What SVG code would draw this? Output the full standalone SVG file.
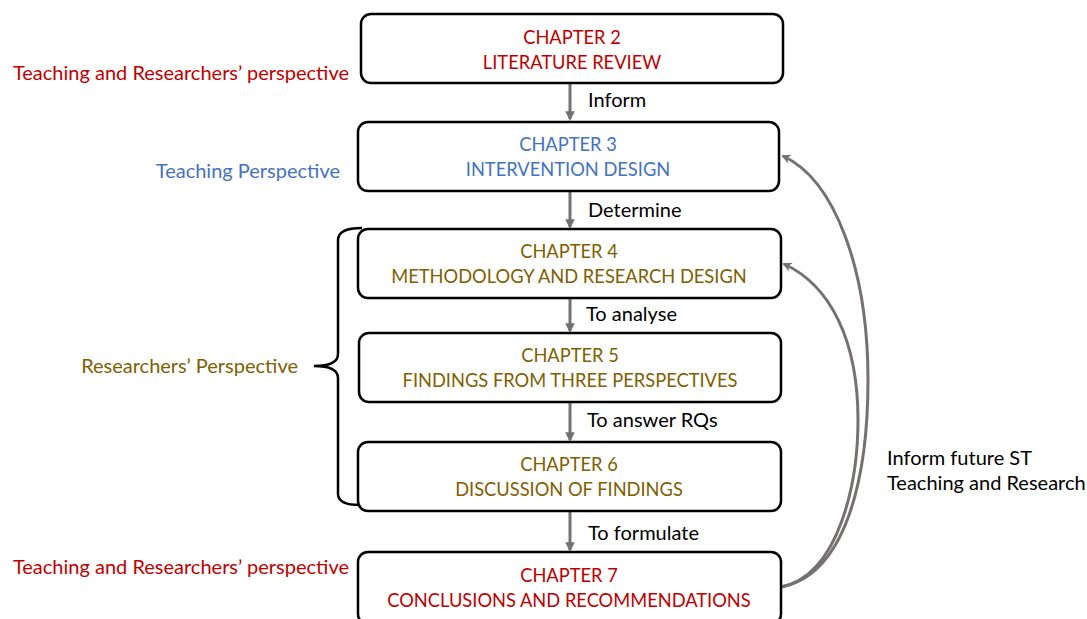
<svg xmlns="http://www.w3.org/2000/svg" width="1087" height="619" viewBox="0 0 1087 619">
  <defs>
    <style>
      text { font-family: Lato, "Liberation Sans", sans-serif; font-size: 20px; }
      .box { fill: #ffffff; stroke: #000000; stroke-width: 2.5; }
      .title { text-anchor: middle; font-size: 18.3px; }
      .red { fill: #C00000; }
      .blue { fill: #4472C4; }
      .olive { fill: #7F6000; }
      .lbl { fill: #000000; }
      .side { text-anchor: end; }
      .flow { stroke: #767171; stroke-width: 3; fill: none; marker-end: url(#head); }
      .loop { stroke: #767171; stroke-width: 3; fill: none; marker-end: url(#head2); }
    </style>
    <marker id="head" viewBox="0 0 10 10" refX="8" refY="5" markerWidth="3.2" markerHeight="3.2" orient="auto">
      <path d="M0,0 L10,5 L0,10 Z" fill="#767171"/>
    </marker>
    <marker id="head2" viewBox="0 0 10 10" refX="8" refY="5" markerWidth="3.2" markerHeight="3.2" orient="auto">
      <path d="M0,0 L10,5 L0,10 L3,5 Z" fill="#767171"/>
    </marker>
  </defs>

  <!-- side labels and the brace grouping chapters 4 to 6 -->
  <text class="side red" x="349" y="80">Teaching and Researchers’ perspective</text>
  <text class="side blue" x="340" y="178">Teaching Perspective</text>
  <text class="side olive" x="298" y="373">Researchers’ Perspective</text>
  <text class="side red" x="349" y="574">Teaching and Researchers’ perspective</text>
  <path d="M362,228 Q338,228 338,240 L338,354 Q338,366 314,366 Q338,366 338,378 L338,494 Q338,505 360,505" fill="none" stroke="#000" stroke-width="2.5"/>

  <!-- connectors -->
  <g id="connectors">
    <line class="flow" x1="570" y1="83" x2="570" y2="119"/>
    <line class="flow" x1="570" y1="191" x2="570" y2="227"/>
    <line class="flow" x1="570" y1="298" x2="570" y2="331"/>
    <line class="flow" x1="570" y1="402" x2="570" y2="440"/>
    <line class="flow" x1="570" y1="511" x2="570" y2="550"/>
    <path class="loop" d="M781,587 C845,575 868,480 868,380 C868,270 835,180 783,156"/>
    <path class="loop" d="M781,587 C840,575 858,480 858,420 C858,340 830,285 784,264"/>
    <text class="lbl" x="588" y="107">Inform</text>
    <text class="lbl" x="588" y="217">Determine</text>
    <text class="lbl" x="586" y="321">To analyse</text>
    <text class="lbl" x="587" y="427">To answer RQs</text>
    <text class="lbl" x="588" y="540">To formulate</text>
    <text class="lbl" x="887" y="465">Inform future ST</text>
    <text class="lbl" x="887" y="490">Teaching and Research</text>
  </g>

  <g id="ch2">
    <rect class="box" x="361" y="14" width="422" height="69" rx="10"/>
    <text class="title red" x="572" y="44">CHAPTER 2</text>
    <text class="title red" x="572" y="69">LITERATURE REVIEW</text>
  </g>
  <g id="ch3">
    <rect class="box" x="358" y="122" width="421" height="69" rx="10"/>
    <text class="title blue" x="568" y="151">CHAPTER 3</text>
    <text class="title blue" x="568" y="176">INTERVENTION DESIGN</text>
  </g>
  <g id="ch4">
    <rect class="box" x="358" y="229" width="423" height="69" rx="10"/>
    <text class="title olive" x="569" y="258">CHAPTER 4</text>
    <text class="title olive" x="569" y="283">METHODOLOGY AND RESEARCH DESIGN</text>
  </g>
  <g id="ch5">
    <rect class="box" x="359" y="333" width="422" height="69" rx="10"/>
    <text class="title olive" x="570" y="362">CHAPTER 5</text>
    <text class="title olive" x="570" y="387">FINDINGS FROM THREE PERSPECTIVES</text>
  </g>
  <g id="ch6">
    <rect class="box" x="358" y="442" width="423" height="69" rx="10"/>
    <text class="title olive" x="569" y="471">CHAPTER 6</text>
    <text class="title olive" x="569" y="496">DISCUSSION OF FINDINGS</text>
  </g>
  <g id="ch7">
    <rect class="box" x="358" y="552" width="423" height="72" rx="10"/>
    <text class="title red" x="569" y="582">CHAPTER 7</text>
    <text class="title red" x="569" y="607">CONCLUSIONS AND RECOMMENDATIONS</text>
  </g>
</svg>
